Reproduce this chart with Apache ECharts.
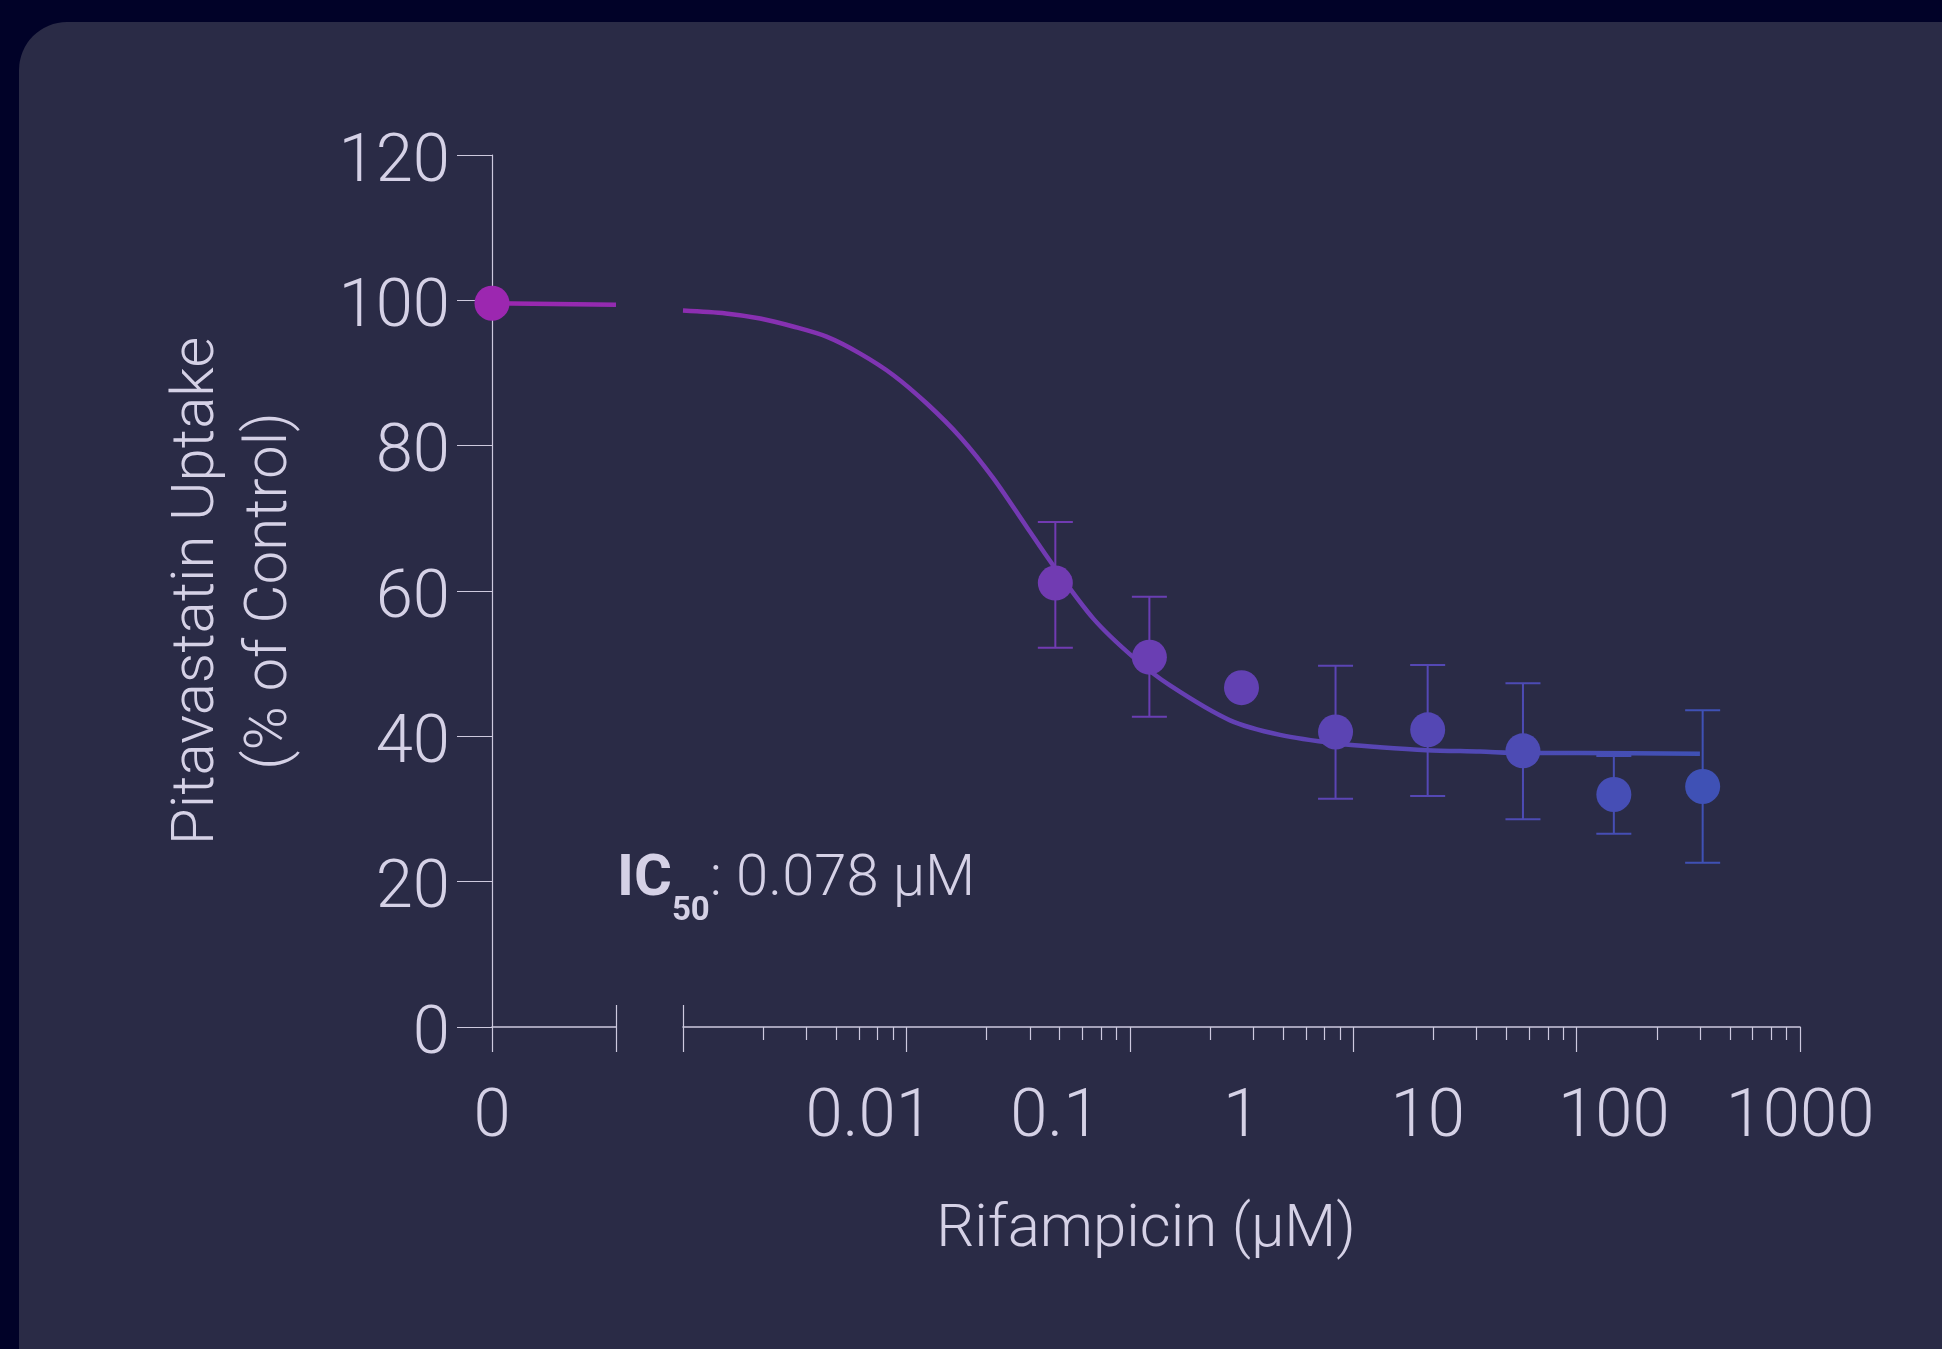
<!DOCTYPE html>
<html>
<head>
<meta charset="utf-8">
<script src="https://cdn.jsdelivr.net/npm/echarts@6/dist/echarts.min.js"></script>
<style>
  html, body { margin: 0; padding: 0; width: 1942px; height: 1349px; overflow: hidden; background: #010228; }
  #card { position: absolute; left: 19px; top: 22px; width: 2000px; height: 1400px; background: #2a2b46; border-radius: 48px; }
  #chart { position: absolute; left: 0; top: 0; width: 1942px; height: 1349px; }
</style>
</head>
<body>
<div id="card"></div>
<div id="chart"></div>
<script>
// ---- data ----
const concentrations = [0.1, 0.32, 1, 3.2, 10, 32.5, 100, 300];       // µM
const uptakeMean     = [61.1, 50.9, 46.7, 40.6, 40.9, 38.0, 32.0, 33.1];
const errorLow       = [52.2, 42.7, null, 31.4, 31.8, 28.6, 26.6, 22.6];
const errorHigh      = [69.5, 59.2, null, 49.7, 49.8, 47.3, 37.3, 43.6];

const controlX = [0];
const controlY = [99.6];

// fitted curve (left of the axis break and right of it)
const leftFitX = [0, 1];
const leftFitY = [99.6, 99.4];
const fitX = [0.001, 0.0017, 0.0026, 0.0039, 0.0059, 0.0089, 0.0135, 0.0204, 0.0308, 0.0465,
              0.0702, 0.0975, 0.16, 0.262, 0.413, 0.868, 1.61, 3.25, 5.54, 9.88, 19.1, 32.6, 65.8, 290];
const fitY = [98.6, 98.2, 97.5, 96.4, 95.0, 92.7, 89.7, 85.8, 81.2, 75.5,
              68.8, 63.5, 56.2, 50.9, 47.0, 42.2, 40.2, 39.0, 38.5, 38.1, 37.9, 37.7, 37.7, 37.6];

const yMin = 0, yMax = 120, yStep = 20;
const xLogMin = 0.001, xLogMax = 1000;
const xTickAxisMin = 0.01;
const zeroLabel = '0';
const xAxisTitle = 'Rifampicin (μM)';
const yAxisTitle = 'Pitavastatin Uptake\n(% of Control)';
const icLabel = { name: 'IC', sub: '50', value: ': 0.078 μM' };

// ---- styles ----
const TEXT = '#d5d1e6';
const AXIS = '#cdc9de';
const FONT = 'Roboto';
const C0 = '#9c27b0', C1 = '#3f51b5';

const chart = echarts.init(document.getElementById('chart'), null, { renderer: 'canvas' });

function fmtNum(v) { return String(parseFloat(Number(v).toPrecision(3))); }

function buildOption(grad, pointColor) {
  const errData = concentrations
    .map((c, i) => [c, errorLow[i], errorHigh[i]])
    .filter(d => d[1] != null && d[2] != null);
  const tickStyle = { color: AXIS, width: 1.2 };
  const labelBase = { color: TEXT, fontSize: 67, fontWeight: 300, fontFamily: FONT };
  return {
    animation: false,
    backgroundColor: 'transparent',
    textStyle: { fontFamily: FONT },
    grid: [
      { left: 492, top: 155, width: 124, height: 872 },
      { left: 683, top: 155, width: 1117, height: 872 }
    ],
    xAxis: [
      { // 0: left segment (the "0" control)
        gridIndex: 0, type: 'value', min: 0, max: 1, interval: 1, position: 'bottom',
        axisLine: { show: true, lineStyle: { color: AXIS, width: 1.5 } },
        axisTick: { show: true, length: 25, customValues: [0, 1], lineStyle: tickStyle },
        axisLabel: Object.assign({ show: true, margin: 59, customValues: [0], formatter: () => zeroLabel }, labelBase),
        splitLine: { show: false }
      },
      { // 1: break mark at the end of the left segment
        gridIndex: 0, type: 'value', min: 0, max: 1, position: 'bottom',
        axisLine: { show: false },
        axisTick: { show: true, inside: true, length: 22, customValues: [1], lineStyle: tickStyle },
        axisLabel: { show: false },
        splitLine: { show: false }
      },
      { // 2: tick axis of the log segment (major + minor ticks)
        gridIndex: 1, type: 'log', logBase: 10, min: xTickAxisMin, max: xLogMax, position: 'bottom',
        axisLine: { show: true, lineStyle: { color: AXIS, width: 1.5 } },
        axisTick: { show: true, length: 25, lineStyle: tickStyle },
        minorTick: { show: true, splitNumber: 7, length: 13, lineStyle: tickStyle },
        axisLabel: { show: false },
        splitLine: { show: false }, minorSplitLine: { show: false }
      },
      { // 3: data axis of the log segment (labels)
        gridIndex: 1, type: 'log', logBase: 10, min: xLogMin, max: xLogMax, position: 'bottom',
        axisLine: { show: false },
        axisTick: { show: false },
        axisLabel: Object.assign({ show: true, showMinLabel: false, margin: 59, formatter: v => fmtNum(v) }, labelBase),
        splitLine: { show: false }
      },
      { // 4: break mark at the start of the log segment
        gridIndex: 1, type: 'value', min: 0, max: 1, position: 'bottom',
        axisLine: { show: false },
        axisTick: { show: true, inside: true, length: 22, customValues: [0], lineStyle: tickStyle },
        axisLabel: { show: false },
        splitLine: { show: false }
      }
    ],
    yAxis: [
      {
        gridIndex: 0, type: 'value', min: yMin, max: yMax, interval: yStep,
        axisLine: { show: true, lineStyle: { color: AXIS, width: 1.2 } },
        axisTick: { show: true, length: 35, lineStyle: tickStyle },
        axisLabel: Object.assign({ show: true, margin: 42, verticalAlign: 'top', lineHeight: 18 }, labelBase),
        splitLine: { show: false },
        name: yAxisTitle, nameLocation: 'middle', nameGap: 185,
        nameTextStyle: { color: TEXT, fontSize: 60, lineHeight: 73, fontWeight: 300, fontFamily: FONT, align: 'center' }
      },
      {
        gridIndex: 1, type: 'value', min: yMin, max: yMax, interval: yStep, show: false
      }
    ],
    graphic: [
      {
        type: 'text', x: 1146, y: 1231, z: 10,
        style: { text: xAxisTitle, fill: TEXT, font: '300 60px ' + FONT, align: 'center', verticalAlign: 'middle' }
      },
      {
        type: 'text', x: 617, y: 880, z: 10,
        style: {
          text: '{b|' + icLabel.name + '}{s|' + icLabel.sub + '}{n|' + icLabel.value + '}',
          align: 'left', verticalAlign: 'middle',
          rich: {
            b: { fill: TEXT, fontFamily: FONT, fontWeight: 700, fontSize: 58, lineHeight: 96 },
            s: { fill: TEXT, fontFamily: FONT, fontWeight: 700, fontSize: 33, lineHeight: 33, verticalAlign: 'bottom' },
            n: { fill: TEXT, fontFamily: FONT, fontWeight: 300, fontSize: 58, lineHeight: 96 }
          }
        }
      }
    ],
    series: [
      {
        type: 'line', xAxisIndex: 0, yAxisIndex: 0, z: 2,
        data: leftFitX.map((x, i) => [x, leftFitY[i]]),
        showSymbol: false, symbol: 'none',
        lineStyle: { width: 4.5, color: grad }
      },
      {
        type: 'scatter', xAxisIndex: 0, yAxisIndex: 0, z: 3,
        data: controlX.map((x, i) => [x, controlY[i]]),
        symbol: 'circle', symbolSize: 35,
        itemStyle: { color: p => pointColor(0, p.value[0]), opacity: 1 }
      },
      {
        type: 'custom', xAxisIndex: 3, yAxisIndex: 1, z: 1,
        data: errData,
        encode: { x: 0, y: [1, 2] },
        renderItem: function (params, api) {
          const x = api.value(0);
          const pLo = api.coord([x, api.value(1)]);
          const pHi = api.coord([x, api.value(2)]);
          const half = 17.5;
          const st = { stroke: grad, lineWidth: 2, fill: null };
          return {
            type: 'group',
            children: [
              { type: 'line', shape: { x1: pLo[0], y1: pLo[1], x2: pHi[0], y2: pHi[1] }, style: st },
              { type: 'line', shape: { x1: pHi[0] - half, y1: pHi[1], x2: pHi[0] + half, y2: pHi[1] }, style: st },
              { type: 'line', shape: { x1: pLo[0] - half, y1: pLo[1], x2: pLo[0] + half, y2: pLo[1] }, style: st }
            ]
          };
        }
      },
      {
        type: 'line', xAxisIndex: 3, yAxisIndex: 1, z: 2,
        data: fitX.map((x, i) => [x, fitY[i]]),
        showSymbol: false, symbol: 'none', smooth: 0.3,
        lineStyle: { width: 4.5, color: grad }
      },
      {
        type: 'scatter', xAxisIndex: 3, yAxisIndex: 1, z: 3,
        data: concentrations.map((c, i) => [c, uptakeMean[i]]),
        symbol: 'circle', symbolSize: 35,
        itemStyle: { color: p => pointColor(3, p.value[0]), opacity: 1 }
      }
    ]
  };
}

// first pass to get the scales, then colour with a gradient spanning the data range
chart.setOption(buildOption(C0, () => C0));
const gx0 = chart.convertToPixel({ xAxisIndex: 0 }, controlX[0]);
const gx1 = chart.convertToPixel({ xAxisIndex: 3 }, concentrations[concentrations.length - 1]);
const gradient = {
  type: 'linear', x: gx0, y: 0, x2: gx1, y2: 0, global: true,
  colorStops: [{ offset: 0, color: C0 }, { offset: 1, color: C1 }]
};
function pointColor(axisIndex, v) {
  const px = chart.convertToPixel({ xAxisIndex: axisIndex }, v);
  const t = Math.max(0, Math.min(1, (px - gx0) / (gx1 - gx0)));
  return echarts.color.lerp(t, [C0, C1]);
}
chart.setOption(buildOption(gradient, pointColor), true);
</script>
</body>
</html>
